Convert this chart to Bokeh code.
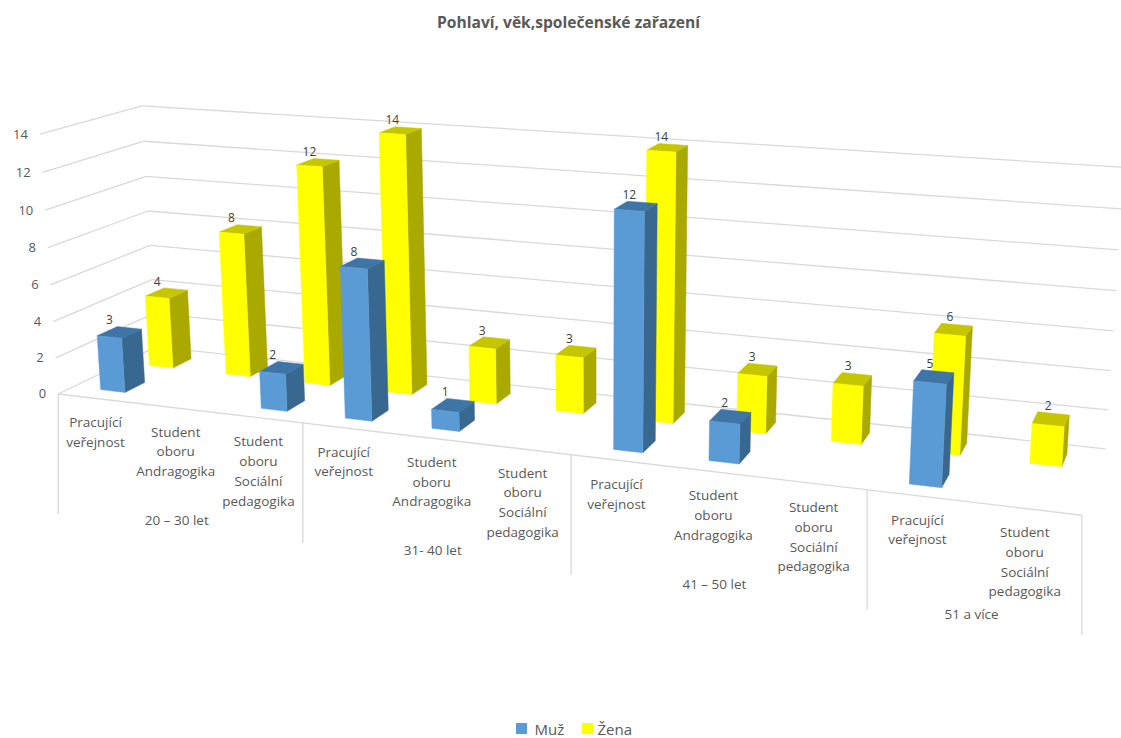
import numpy as np
from bokeh.core.properties import value
from bokeh.embed import file_html
from bokeh.models import Range1d
from bokeh.plotting import figure
from bokeh.resources import INLINE

# Chart content
TITLE = "Pohlaví, věk,společenské zařazení"
SERIES = ["Muž", "Žena"]
MUZ = [3, None, 2, 8, 1, None, 12, 2, None, 5, None]
ZENA = [4, 8, 12, 14, 3, 3, 14, 3, 3, 6, 2]
PRAC = ["Pracující", "veřejnost"]
ANDR = ["Student", "oboru", "Andragogika"]
SOC = ["Student", "oboru", "Sociální", "pedagogika"]
CATEGORIES = [PRAC, ANDR, SOC, PRAC, ANDR, SOC, PRAC, ANDR, SOC, PRAC, SOC]
GROUPS = ["20 – 30 let", "31- 40 let", "41 – 50 let", "51 a více"]
GROUP_SPANS = [(0, 3), (3, 6), (6, 9), (9, 11)]
TICKS = [0, 2, 4, 6, 8, 10, 12, 14]

# Styling
FONT = "Open Sans"
TEXT = "#595959"
VALUE_TEXT = "#404040"
GRID = "#D9D9D9"
BLUE = ("#5B9BD5", "#3F74A6", "#38678F")
YELLOW = ("#FFFF00", "#C6C600", "#A9A900")
BAR_W = 0.31
BAR_D = 0.20
ROW_Z = (0.25, 0.75)

# Camera calibration: scene axes (category, value, depth) to page pixels.
CAL_WORLD = [(0, 0, 0), (0, 14, 0), (0, 0, 1), (0, 14, 1), (11, 0, 1), (11, 14, 1),
             (11, 0, 0), (3, 0, 0), (6, 0, 0), (9, 0, 0)]
CAL_PAGE = [(58, 392), (39, 134), (155, 347), (142, 105), (1105, 448), (1124, 167),
            (1082, 513), (303, 422), (570, 457), (866, 490)]


def solve_camera(world, page):
    rows = []
    for (x, y, z), (u, v) in zip(world, page):
        w = (x / 11, y / 14, z, 1)
        u, v = u / 1000, v / 1000
        rows.append([*w, 0, 0, 0, 0, *[-u * c for c in w]])
        rows.append([0, 0, 0, 0, *w, *[-v * c for c in w]])
    return np.linalg.svd(np.array(rows))[2][-1].reshape(3, 4)


CAM = solve_camera(CAL_WORLD, CAL_PAGE)


def project(x, y, z):
    h = CAM @ np.array([x / 11, y / 14, z, 1.0])
    return 1000 * h[0] / h[2], 1000 * h[1] / h[2]


p = figure(width=1121, height=738, output_backend="svg", toolbar_location=None,
           x_range=Range1d(0, 1121), y_range=Range1d(738, 0), min_border=0,
           outline_line_color=None)
p.axis.visible = False
p.grid.visible = False
p.background_fill_color = "white"


def segment(a, b, color=GRID, width=1.3):
    p.line([a[0], b[0]], [a[1], b[1]], line_color=color, line_width=width)


def label(x, y, s, size="13.5px", weight="normal", align="center", color=TEXT):
    p.text([x], [y], text=[s], text_font=value(FONT), text_font_size=value(size),
           text_font_style=value(weight), text_align=value(align),
           text_baseline=value("middle"), text_color=value(color))


# Wall gridlines and floor outline
for t in TICKS:
    segment(project(0, t, 0), project(0, t, 1))
    segment(project(0, t, 1), project(11, t, 1))
    fx, fy = project(0, t, 0)
    label(fx - 12, fy, str(t), size="13px", align="right")
segment(project(0, 0, 0), project(11, 0, 0))

# Group dividers hanging below the floor edge
DROP = 120
for edge in [0, 3, 6, 9, 11]:
    ex, ey = project(edge, 0, 0)
    segment((ex, ey), (ex, ey + DROP))

# Category and group labels
for i, lines in enumerate(CATEGORIES):
    cx, cy = project(i + 0.5, 0, 0)
    for j, s in enumerate(lines):
        label(cx - 2, cy + 23.5 + j * 19.7, s)
for name, (a, b) in zip(GROUPS, GROUP_SPANS):
    cx, cy = project((a + b) / 2, 0, 0)
    label(cx - 1, cy + 112, name)


def bar_faces(i, v, zc):
    x0, x1 = i + 0.5 - BAR_W / 2, i + 0.5 + BAR_W / 2
    z0, z1 = zc - BAR_D / 2, zc + BAR_D / 2
    front = [project(x0, 0, z0), project(x1, 0, z0), project(x1, v, z0), project(x0, v, z0)]
    top = [project(x0, v, z0), project(x1, v, z0), project(x1, v, z1), project(x0, v, z1)]
    side = [project(x1, 0, z0), project(x1, 0, z1), project(x1, v, z1), project(x1, v, z0)]
    return front, top, side


# Bars: rear row first so the front row overlaps it
for vals, colors, zc in [(ZENA, YELLOW, ROW_Z[1]), (MUZ, BLUE, ROW_Z[0])]:
    for i, v in enumerate(vals):
        if v is None:
            continue
        front, top, side = bar_faces(i, v, zc)
        for face, col in [(side, colors[2]), (top, colors[1]), (front, colors[0])]:
            p.patch([q[0] for q in face], [q[1] for q in face], fill_color=col, line_color=col,
                    line_width=0.5)

# Value labels go last, above each bar's top face
for vals, zc in [(ZENA, ROW_Z[1]), (MUZ, ROW_Z[0])]:
    for i, v in enumerate(vals):
        if v is None:
            continue
        fx, _ = project(i + 0.5, v, zc - BAR_D / 2)
        _, by = project(i + 0.5, v, zc + BAR_D / 2)
        label(fx, by - 8, str(v), size="12px", color=VALUE_TEXT)

label(568, 21, TITLE, size="15.6px", weight="bold")

# Legend
p.scatter([521], [728], marker="square", size=11, fill_color=BLUE[0], line_color=None)
label(534, 728, SERIES[0], size="15px", align="left")
p.scatter([587], [728], marker="square", size=11, fill_color=YELLOW[0], line_color=None)
label(597, 728, SERIES[1], size="15px", align="left")

open("out.html", "w").write(file_html(p, INLINE))
